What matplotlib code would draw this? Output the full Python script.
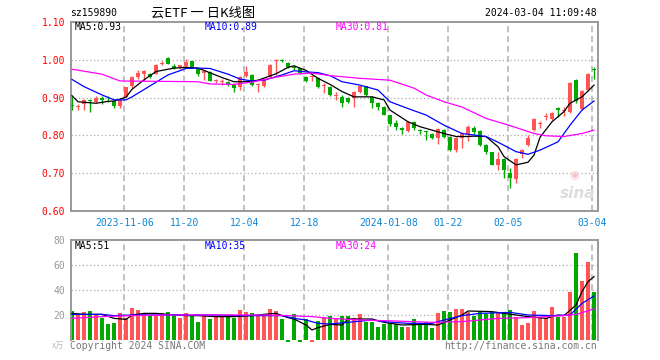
import matplotlib
matplotlib.use("Agg")
import matplotlib.pyplot as plt
import numpy as np

# daily candles, index 0 = 2023-10-24 ... 87 = 2024-03-04
opens = [0.879, 0.875, 0.883, 0.893, 0.889, 0.898, 0.897, 0.892, 0.878, 0.902,
         0.932, 0.955, 0.962, 0.962, 0.963, 0.990, 1.006, 0.983, 0.980, 0.984,
         0.996, 0.977, 0.964, 0.969, 0.944, 0.941, 0.942, 0.933, 0.927, 0.958,
         0.960, 0.933, 0.931, 0.955, 0.996, 0.999, 0.992, 0.982, 0.977, 0.955,
         0.954, 0.953, 0.931, 0.929, 0.904, 0.902, 0.900, 0.900, 0.914, 0.930,
         0.902, 0.885, 0.876, 0.854, 0.832, 0.820, 0.812, 0.835, 0.813, 0.810,
         0.805, 0.793, 0.814, 0.797, 0.762, 0.792, 0.805, 0.820, 0.812, 0.775,
         0.755, 0.722, 0.738, 0.700, 0.685, 0.751, 0.775, 0.814, 0.831, 0.849,
         0.843, 0.873, 0.865, 0.863, 0.947, 0.870, 0.920, 0.974]
highs = [0.903, 0.882, 0.895, 0.896, 0.903, 0.905, 0.903, 0.894, 0.895, 0.929,
         0.956, 0.972, 0.974, 0.965, 0.990, 0.996, 1.007, 0.988, 0.987, 1.003,
         0.998, 0.979, 0.973, 0.970, 0.950, 0.948, 0.944, 0.935, 0.956, 0.983,
         0.962, 0.938, 0.951, 0.988, 1.001, 1.002, 0.995, 0.985, 0.978, 0.957,
         0.960, 0.955, 0.938, 0.931, 0.915, 0.906, 0.902, 0.917, 0.933, 0.932,
         0.904, 0.888, 0.877, 0.855, 0.840, 0.822, 0.838, 0.838, 0.816, 0.811,
         0.806, 0.820, 0.816, 0.799, 0.797, 0.808, 0.827, 0.825, 0.814, 0.777,
         0.757, 0.757, 0.740, 0.715, 0.740, 0.765, 0.800, 0.845, 0.838, 0.860,
         0.862, 0.876, 0.876, 0.940, 0.950, 0.920, 0.966, 0.982]
lows = [0.866, 0.866, 0.866, 0.863, 0.885, 0.882, 0.889, 0.873, 0.873, 0.901,
        0.925, 0.950, 0.945, 0.952, 0.962, 0.985, 0.988, 0.975, 0.976, 0.982,
        0.979, 0.958, 0.946, 0.943, 0.938, 0.934, 0.930, 0.916, 0.921, 0.955,
        0.932, 0.915, 0.929, 0.953, 0.960, 0.994, 0.978, 0.972, 0.962, 0.940,
        0.945, 0.926, 0.911, 0.905, 0.894, 0.876, 0.885, 0.876, 0.912, 0.905,
        0.873, 0.867, 0.853, 0.826, 0.814, 0.803, 0.810, 0.815, 0.803, 0.788,
        0.790, 0.776, 0.793, 0.758, 0.757, 0.766, 0.785, 0.805, 0.773, 0.752,
        0.721, 0.708, 0.686, 0.660, 0.673, 0.740, 0.772, 0.812, 0.820, 0.840,
        0.840, 0.850, 0.852, 0.860, 0.885, 0.866, 0.918, 0.948]
closes = [0.877, 0.878, 0.893, 0.891, 0.900, 0.894, 0.895, 0.877, 0.893, 0.928,
          0.954, 0.964, 0.971, 0.955, 0.985, 0.992, 0.989, 0.979, 0.986, 0.993,
          0.981, 0.962, 0.971, 0.945, 0.946, 0.943, 0.937, 0.925, 0.955, 0.969,
          0.933, 0.936, 0.948, 0.986, 1.000, 0.998, 0.980, 0.978, 0.966, 0.945,
          0.956, 0.929, 0.934, 0.907, 0.906, 0.885, 0.889, 0.914, 0.931, 0.908,
          0.885, 0.874, 0.854, 0.829, 0.823, 0.814, 0.835, 0.820, 0.811, 0.808,
          0.792, 0.817, 0.795, 0.761, 0.792, 0.805, 0.823, 0.808, 0.775, 0.755,
          0.723, 0.738, 0.708, 0.686, 0.738, 0.761, 0.792, 0.843, 0.833, 0.851,
          0.860, 0.867, 0.867, 0.938, 0.890, 0.917, 0.963, 0.972]
volumes = [23.2, 20.0, 22.1, 23.2, 20.0, 17.9, 13.0, 13.9, 21.3, 17.3,
           25.9, 24.0, 20.5, 20.0, 20.0, 21.3, 22.1, 20.5, 17.9, 21.3,
           20.0, 14.7, 20.0, 16.8, 19.5, 19.5, 18.7, 17.9, 24.0, 22.1,
           21.6, 20.0, 20.0, 24.8, 23.2, 16.8, -1.5, 20.5, -1.5, 17.0,
           -1.5, 15.2, 18.1, 19.5, 17.3, 19.5, 19.5, 17.3, 20.5, 14.7,
           14.7, 10.7, 12.8, 13.3, 12.8, 10.7, 10.7, 16.8, 12.8, 14.7,
           9.9, 21.6, 23.2, 22.7, 24.8, 24.8, 22.7, 19.5, 22.1, 20.5,
           22.1, 22.1, 22.1, 24.0, 18.7, 12.0, 13.9, 23.2, 17.3, 17.3,
           26.7, 18.7, 18.7, 38.7, 69.9, 47.2, 62.7, 38.7]

# moving averages (candle index, value)
ma5_idx = [0, 1, 4, 6, 7, 9, 10, 12, 14, 17, 19, 21, 22, 25, 27, 29, 31, 34, 36, 37, 39, 41, 43,
           45, 47, 50, 52, 53, 56, 58, 60, 62, 64, 66, 67, 69, 71, 72, 74, 76, 77, 78, 80, 82, 83, 85, 87]
ma5_val = [0.905, 0.889, 0.885, 0.890, 0.891, 0.901, 0.922, 0.947, 0.969, 0.978, 0.980, 0.978,
           0.972, 0.953, 0.942, 0.942, 0.946, 0.963, 0.980, 0.984, 0.972, 0.951, 0.935,
           0.916, 0.902, 0.902, 0.894, 0.867, 0.836, 0.823, 0.814, 0.805, 0.797, 0.797, 0.798,
           0.797, 0.770, 0.744, 0.722, 0.729, 0.748, 0.795, 0.836, 0.863, 0.885, 0.902, 0.933]
ma10_idx = [0, 2, 5, 7, 9, 10, 13, 16, 19, 21, 23, 26, 28, 30, 32, 35, 37, 39, 41, 43, 45,
            48, 51, 53, 56, 59, 62, 65, 69, 71, 74, 76, 78, 81, 83, 85, 87]
ma10_val = [0.948, 0.929, 0.907, 0.894, 0.894, 0.902, 0.931, 0.960, 0.977, 0.978, 0.977,
            0.962, 0.949, 0.944, 0.946, 0.960, 0.971, 0.968, 0.966, 0.958, 0.942, 0.933,
            0.920, 0.889, 0.871, 0.854, 0.827, 0.805, 0.797, 0.782, 0.757, 0.750, 0.761,
            0.783, 0.827, 0.867, 0.891]
ma30_idx = [0, 5, 8, 21, 23, 27, 30, 34, 37, 40, 43, 48, 53, 57, 59, 62, 65, 69, 73, 77,
            79, 82, 85, 87]
ma30_val = [0.975, 0.962, 0.944, 0.942, 0.936, 0.935, 0.941, 0.954, 0.962, 0.965, 0.958,
            0.951, 0.946, 0.925, 0.907, 0.889, 0.875, 0.845, 0.826, 0.805, 0.799, 0.797,
            0.805, 0.814]

vma5_idx = [0, 2, 5, 7, 9, 10, 12, 14, 16, 19, 21, 24, 27, 30, 32, 34, 36, 37, 39, 40, 41,
            43, 45, 46, 50, 52, 55, 59, 61, 63, 65, 66, 70, 72, 74, 76, 79, 81, 82, 84, 85, 86, 87]
vma5_val = [21.3, 20.5, 20.5, 17.3, 16.5, 20.0, 21.3, 21.3, 20.5, 19.5, 19.5, 18.7, 18.7,
            19.5, 20.5, 21.3, 17.9, 16.8, 12.0, 8.0, 9.9, 12.5, 12.0, 16.8, 16.8, 14.1, 12.0,
            12.5, 12.0, 16.0, 20.0, 23.2, 22.7, 21.3, 20.0, 18.7, 17.3, 20.0, 19.5, 28.0,
            38.7, 46.7, 50.7]
vma10_idx = [0, 5, 7, 10, 15, 19, 24, 28, 32, 35, 37, 39, 41, 43, 46, 50, 52, 56, 60, 62,
             65, 68, 73, 76, 80, 83, 85, 87]
vma10_val = [20.5, 20.5, 19.5, 20.0, 20.0, 20.0, 20.0, 19.5, 19.5, 19.5, 17.3, 16.0, 13.3,
             12.8, 14.1, 16.0, 14.7, 13.3, 13.3, 16.0, 19.5, 21.3, 22.1, 20.0, 19.5, 20.0,
             29.3, 35.2]
vma30_idx = [0, 5, 10, 16, 21, 27, 32, 36, 40, 43, 48, 54, 60, 65, 71, 76, 82, 84, 87]
vma30_val = [17.3, 18.7, 19.5, 20.0, 20.0, 20.0, 20.0, 19.5, 18.7, 17.3, 16.0, 15.2, 14.1,
             14.7, 17.3, 17.9, 19.5, 20.5, 24.8]

date_idx = [9, 19, 29, 39, 53, 63, 73, 87]
date_labels = ['2023-11-06', '11-20', '12-04', '12-18', '2024-01-08', '01-22', '02-05', '03-04']

RED = '#FF5555'
GREEN = '#00A800'
MONO = 'DejaVu Sans Mono'

x = np.arange(len(closes))
o = np.array(opens)
c = np.array(closes)
up = c >= o
cols = [RED if u else GREEN for u in up]

fig = plt.figure(figsize=(6.6, 3.6), dpi=100)
W, H = 660.0, 360.0
ax = fig.add_axes([70.7 / W, 1 - 211 / H, 526.8 / W, 189 / H])
axv = fig.add_axes([70.7 / W, 1 - 340 / H, 526.8 / W, 100 / H])

xlim = (-0.22, 87.58)
gridx = [d - 0.3 for d in date_idx]

# price panel
for lvl in [0.7, 0.8, 0.9, 1.0]:
    ax.axhline(lvl, color='#aaaaaa', lw=0.9, ls=(0, (1, 2)), zorder=0)
for gx in gridx:
    ax.axvline(gx, color='#b0b0b0', lw=1.1, ls=(0, (4, 2.5)), zorder=0)

ax.vlines(x, lows, highs, colors=cols, lw=1, zorder=2)
body_lo = np.minimum(o, c)
body_h = np.maximum(np.abs(c - o), 0.0025)
ax.bar(x, body_h, bottom=body_lo, width=0.8, color=cols, linewidth=0, zorder=3)

ax.plot(ma5_idx, ma5_val, color='black', lw=0.9, zorder=4)
ax.plot(ma10_idx, ma10_val, color='#0000FF', lw=0.9, zorder=4)
ax.plot(ma30_idx, ma30_val, color='#FF00FF', lw=0.9, zorder=4)

ax.set_xlim(*xlim)
ax.set_ylim(0.6, 1.1)
ax.set_yticks([0.6, 0.7, 0.8, 0.9, 1.0, 1.1])
ax.set_yticklabels(['0.60', '0.70', '0.80', '0.90', '1.00', '1.10'],
                   color='#FF0000', fontsize=7, family=MONO)
ax.set_xticks(gridx)
ax.set_xticklabels(date_labels, color='#0A86D8', fontsize=7, family=MONO)
ax.tick_params(length=0, pad=4)
ax.tick_params(axis='x', pad=5)
for s in ax.spines.values():
    s.set_color('#999999')
    s.set_linewidth(1.4)

ax.text(0.008, 0.975, 'MA5:0.93', transform=ax.transAxes, fontsize=7, family=MONO,
        color='black', va='center')
ax.text(0.255, 0.975, 'MA10:0.89', transform=ax.transAxes, fontsize=7, family=MONO,
        color='#0000FF', va='center')
ax.text(0.502, 0.975, 'MA30:0.81', transform=ax.transAxes, fontsize=7, family=MONO,
        color='#FF00FF', va='center')
# sina watermark
ax.text(0.996, 0.09, 'sina', transform=ax.transAxes, fontsize=11, fontweight='bold',
        style='italic', color='#dddddd', ha='right', va='center', zorder=1)
ax.text(0.955, 0.19, '◉', transform=ax.transAxes, fontsize=8, color='#f4c4c4',
        ha='center', va='center', zorder=1)

# volume panel
for lvl in [20, 40, 60]:
    axv.axhline(lvl, color='#aaaaaa', lw=0.9, ls=(0, (1, 2)), zorder=0)
for gx in gridx:
    axv.axvline(gx, color='#b0b0b0', lw=1.1, ls=(0, (4, 2.5)), zorder=0)
axv.bar(x, volumes, width=0.82, color=cols, linewidth=0, zorder=2, clip_on=False)
axv.plot(vma5_idx, vma5_val, color='black', lw=0.9, zorder=4)
axv.plot(vma10_idx, vma10_val, color='#0000FF', lw=0.9, zorder=4)
axv.plot(vma30_idx, vma30_val, color='#FF00FF', lw=0.9, zorder=4)
axv.set_xlim(*xlim)
axv.set_ylim(0, 80)
axv.set_yticks([20, 40, 60, 80])
axv.set_yticklabels(['20', '40', '60', '80'], color='#999999', fontsize=7, family=MONO)
axv.set_xticks([])
axv.tick_params(length=0, pad=4)
for s in axv.spines.values():
    s.set_color('#999999')
    s.set_linewidth(1.4)
axv.spines['bottom'].set_visible(False)

axv.text(0.008, 0.94, 'MA5:51', transform=axv.transAxes, fontsize=7, family=MONO,
         color='black', va='center')
axv.text(0.255, 0.94, 'MA10:35', transform=axv.transAxes, fontsize=7, family=MONO,
         color='#0000FF', va='center')
axv.text(0.502, 0.94, 'MA30:24', transform=axv.transAxes, fontsize=7, family=MONO,
         color='#FF00FF', va='center')

# header and footer
fig.text(70 / W, 1 - 13 / H, 'sz159890', fontsize=7, family=MONO, va='center')
fig.text(203 / W, 1 - 13 / H, '云ETF 一 日K线图', fontsize=9.5,
         family=['Noto Sans CJK SC', 'DejaVu Sans'], ha='center', va='center')
fig.text(597 / W, 1 - 13 / H, '2024-03-04 11:09:48', fontsize=7, family=MONO,
         ha='right', va='center')
fig.text(70 / W, 1 - 346 / H, 'Copyright 2024 SINA.COM', fontsize=7, family=MONO,
         color='#777777', va='center')
fig.text(597 / W, 1 - 346 / H, 'http://finance.sina.com.cn', fontsize=7, family=MONO,
         color='#777777', ha='right', va='center')
fig.text(64 / W, 1 - 345 / H, 'x万', fontsize=6, family=['Noto Sans CJK SC', 'DejaVu Sans'],
         color='#bbbbbb', ha='right', va='center')

fig.savefig('out.png', dpi=100)
plt.close(fig)
